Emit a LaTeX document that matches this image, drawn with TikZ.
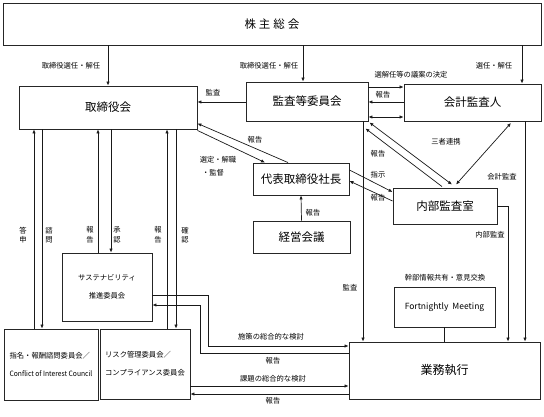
\documentclass[tikz,border=0pt]{standalone}
\usepackage{fontspec}
\newfontfamily\jp{Noto Sans CJK JP}
\usetikzlibrary{arrows.meta}
\begin{document}
\begin{tikzpicture}[x=1pt,y=-1pt,
  box/.style={draw=black!85, line width=0.9pt, inner sep=0pt, font=\jp\fontsize{11.5}{13}\selectfont},
  sbox/.style={draw=black!85, line width=0.9pt, inner sep=0pt, font=\jp\fontsize{7.3}{18}\selectfont},
  lbl/.style={inner sep=0pt, font=\jp\fontsize{7.3}{9}\selectfont},
  vlbl/.style={inner sep=0pt, align=center, font=\jp\fontsize{7.3}{9.5}\selectfont},
  arr/.style={-{Latex[length=4pt,width=3.4pt]}, line width=0.7pt, draw=black!90},
  arrb/.style={{Latex[length=4pt,width=3.4pt]}-{Latex[length=4pt,width=3.4pt]}, line width=0.7pt, draw=black!90},
  ln/.style={line width=0.7pt, draw=black!90}]
\useasboundingbox (0,0) rectangle (544,417);

% boxes
\node[box, minimum width=538pt, minimum height=42pt] (sh) at (272,24) {株\hspace{3pt}主\hspace{3pt}総\hspace{3pt}会};
\node[box, minimum width=178pt, minimum height=43pt] (bd) at (108,107.5) {取締役会};
\node[box, minimum width=122pt, minimum height=39pt] (ac) at (307,101.5) {監査等委員会};
\node[box, minimum width=137pt, minimum height=37pt] (ea) at (472.5,102.5) {会計監査人};
\node[box, minimum width=96pt, minimum height=32pt] (ceo) at (301,179) {代表取締役社長};
\node[box, minimum width=97pt, minimum height=32pt] (mc) at (301.5,237) {経営会議};
\node[box, minimum width=104pt, minimum height=36pt] (ia) at (445,206) {内部監査室};
\node[sbox, minimum width=90pt, minimum height=68pt, align=center] (sus) at (107,287) {サステナビリティ\\推進委員会};
\node[sbox, minimum width=94pt, minimum height=71pt, align=left] (nom) at (51,364.5) {指名・報酬諮問委員会／\\\scalebox{0.92}[1]{Conflict of Interest Council}};
\node[sbox, minimum width=90pt, minimum height=70pt, align=left] (risk) at (145,364) {リスク管理委員会／\\コンプライアンス委員会};
\node[box, minimum width=101pt, minimum height=40pt, font=\jp\fontsize{8.5}{10}\selectfont] (fm) at (444.5,307) {Fortnightly\hspace{4pt}Meeting};
\node[box, minimum width=191pt, minimum height=57pt, font=\jp\fontsize{12}{14}\selectfont] (ex) at (444.5,370.5) {業務執行};

% from shareholders
\draw[arr] (sh.south -| bd.north) -- (bd.north);
\draw[arr] (sh.south -| 303,0) -- (ac.north -| 303,0);
\draw[arr] (sh.south -| 522,0) -- (ea.north -| 522,0);
\node[lbl] (l1) at (71,66) {取締役選任・解任};
\node[lbl] (l2) at (269,66) {取締役選任・解任};
\node[lbl] (l3) at (494,66) {選任・解任};
\node[lbl] (l4) at (411,75) {選解任等の議案の決定};

% audit committee links
\draw[arr] (ac.west |- 0,102) -- (bd.east |- 0,102);
\node[lbl] (l5) at (213,93) {監査};
\draw[arr] (ac.east |- 0,87) -- (ea.west |- 0,87);
\draw[arr] (ea.west |- 0,102) -- (ac.east |- 0,102);
\node[lbl] (l6) at (383,95) {報告};
\draw[arrb] (ac.east |- 0,117) -- (ea.west |- 0,117);

% vertical lines to business execution
\draw[arr] (ac.south -| 363,0) -- (ex.north -| 363,0);
\node[lbl] (l7) at (350,288) {監査};
\draw[arr] (ea.south -| 525,0) -- (ex.north -| 525,0);
\node[lbl] (l8) at (502,177) {会計監査};
\draw[arr] (ia.east) -| (ex.north -| 508,0);
\node[lbl] (l9) at (490,235) {内部監査};

% audit committee <-> internal audit
\draw[arrb] ([shift={(1,1)}]ac.south east) -- ([shift={(7,-3)}]ia.north);
\draw[arr] ([shift={(-3,-1)}]ia.north) -- ([shift={(-3,7)}]ac.south east);
\draw[arrb] ([shift={(38.5,1.5)}]ea.south) -- ([shift={(11,-3)}]ia.north);
\node[lbl] (l10) at (446,142) {三者連携};
\node[lbl] (l11) at (378,154) {報告};
\node[lbl] (l12) at (378,175) {指示};
\node[lbl] (l13) at (378,198) {報告};

% board <-> CEO
\draw[arr] ([shift={(0,1)}]bd.south east) -- ([shift={(-36,0)}]ceo.north);
\draw[arr] ([shift={(-13,0)}]ceo.north) -- ([shift={(0,-6)}]bd.south east);
\node[lbl] (l14) at (255,140) {報告};
\node[lbl] (l15) at (218,160) {選定・解職};
\node[lbl] (l16) at (213,173) {・監督};

% CEO <-> internal audit
\draw[arr] ([shift={(0,-9)}]ceo.east) -- ([shift={(0,-14)}]ia.west);
\draw[arr] ([shift={(0,-5)}]ia.west) -- ([shift={(0,2)}]ceo.east);

% management meeting -> CEO
\draw[arr] (mc.north) -- (ceo.south);
\node[lbl] (l17) at (313,213) {報告};

% board <-> committees
\draw[arr] (nom.north -| 34,0) -- (bd.south -| 34,0);
\draw[arr] (bd.south -| 42,0) -- (nom.north -| 42,0);
\draw[arr] (sus.north -| 98,0) -- (bd.south -| 98,0);
\draw[arr] (bd.south -| 111,0) -- (sus.north -| 111,0);
\draw[arr] (risk.north -| 167,0) -- (bd.south -| 167,0);
\draw[arr] (bd.south -| 176,0) -- (risk.north -| 176,0);
\node[vlbl] (v1) at (23,235) {答\\申};
\node[vlbl] (v2) at (49,235) {諮\\問};
\node[vlbl] (v3) at (90,235) {報\\告};
\node[vlbl] (v4) at (117,235) {承\\認};
\node[vlbl] (v5) at (158,235) {報\\告};
\node[vlbl] (v6) at (185,235) {確\\認};

% sustainability <-> execution
\draw[arr] (sus.east |- 0,295) -- (208,295) -- (208,346) -- (ex.west |- 0,346);
\draw[arr] (ex.west |- 0,353) -- (200,353) -- (200,305) -- (sus.east |- 0,305);
\node[lbl] (l18) at (271,337) {施策の総合的な検討};
\node[lbl] (l19) at (273,361) {報告};

% risk <-> execution
\draw[arr] (risk.east |- 0,386) -- (ex.west |- 0,386);
\draw[arr] (ex.west |- 0,394) -- (risk.east |- 0,394);
\node[lbl] (l20) at (273,379) {課題の総合的な検討};
\node[lbl] (l21) at (273,401) {報告};

% fortnightly meeting
\draw[ln] (fm.south) -- (ex.north -| fm.south);
\node[lbl] (l22) at (445,278) {幹部情報共有・意見交換};
\end{tikzpicture}
\end{document}
